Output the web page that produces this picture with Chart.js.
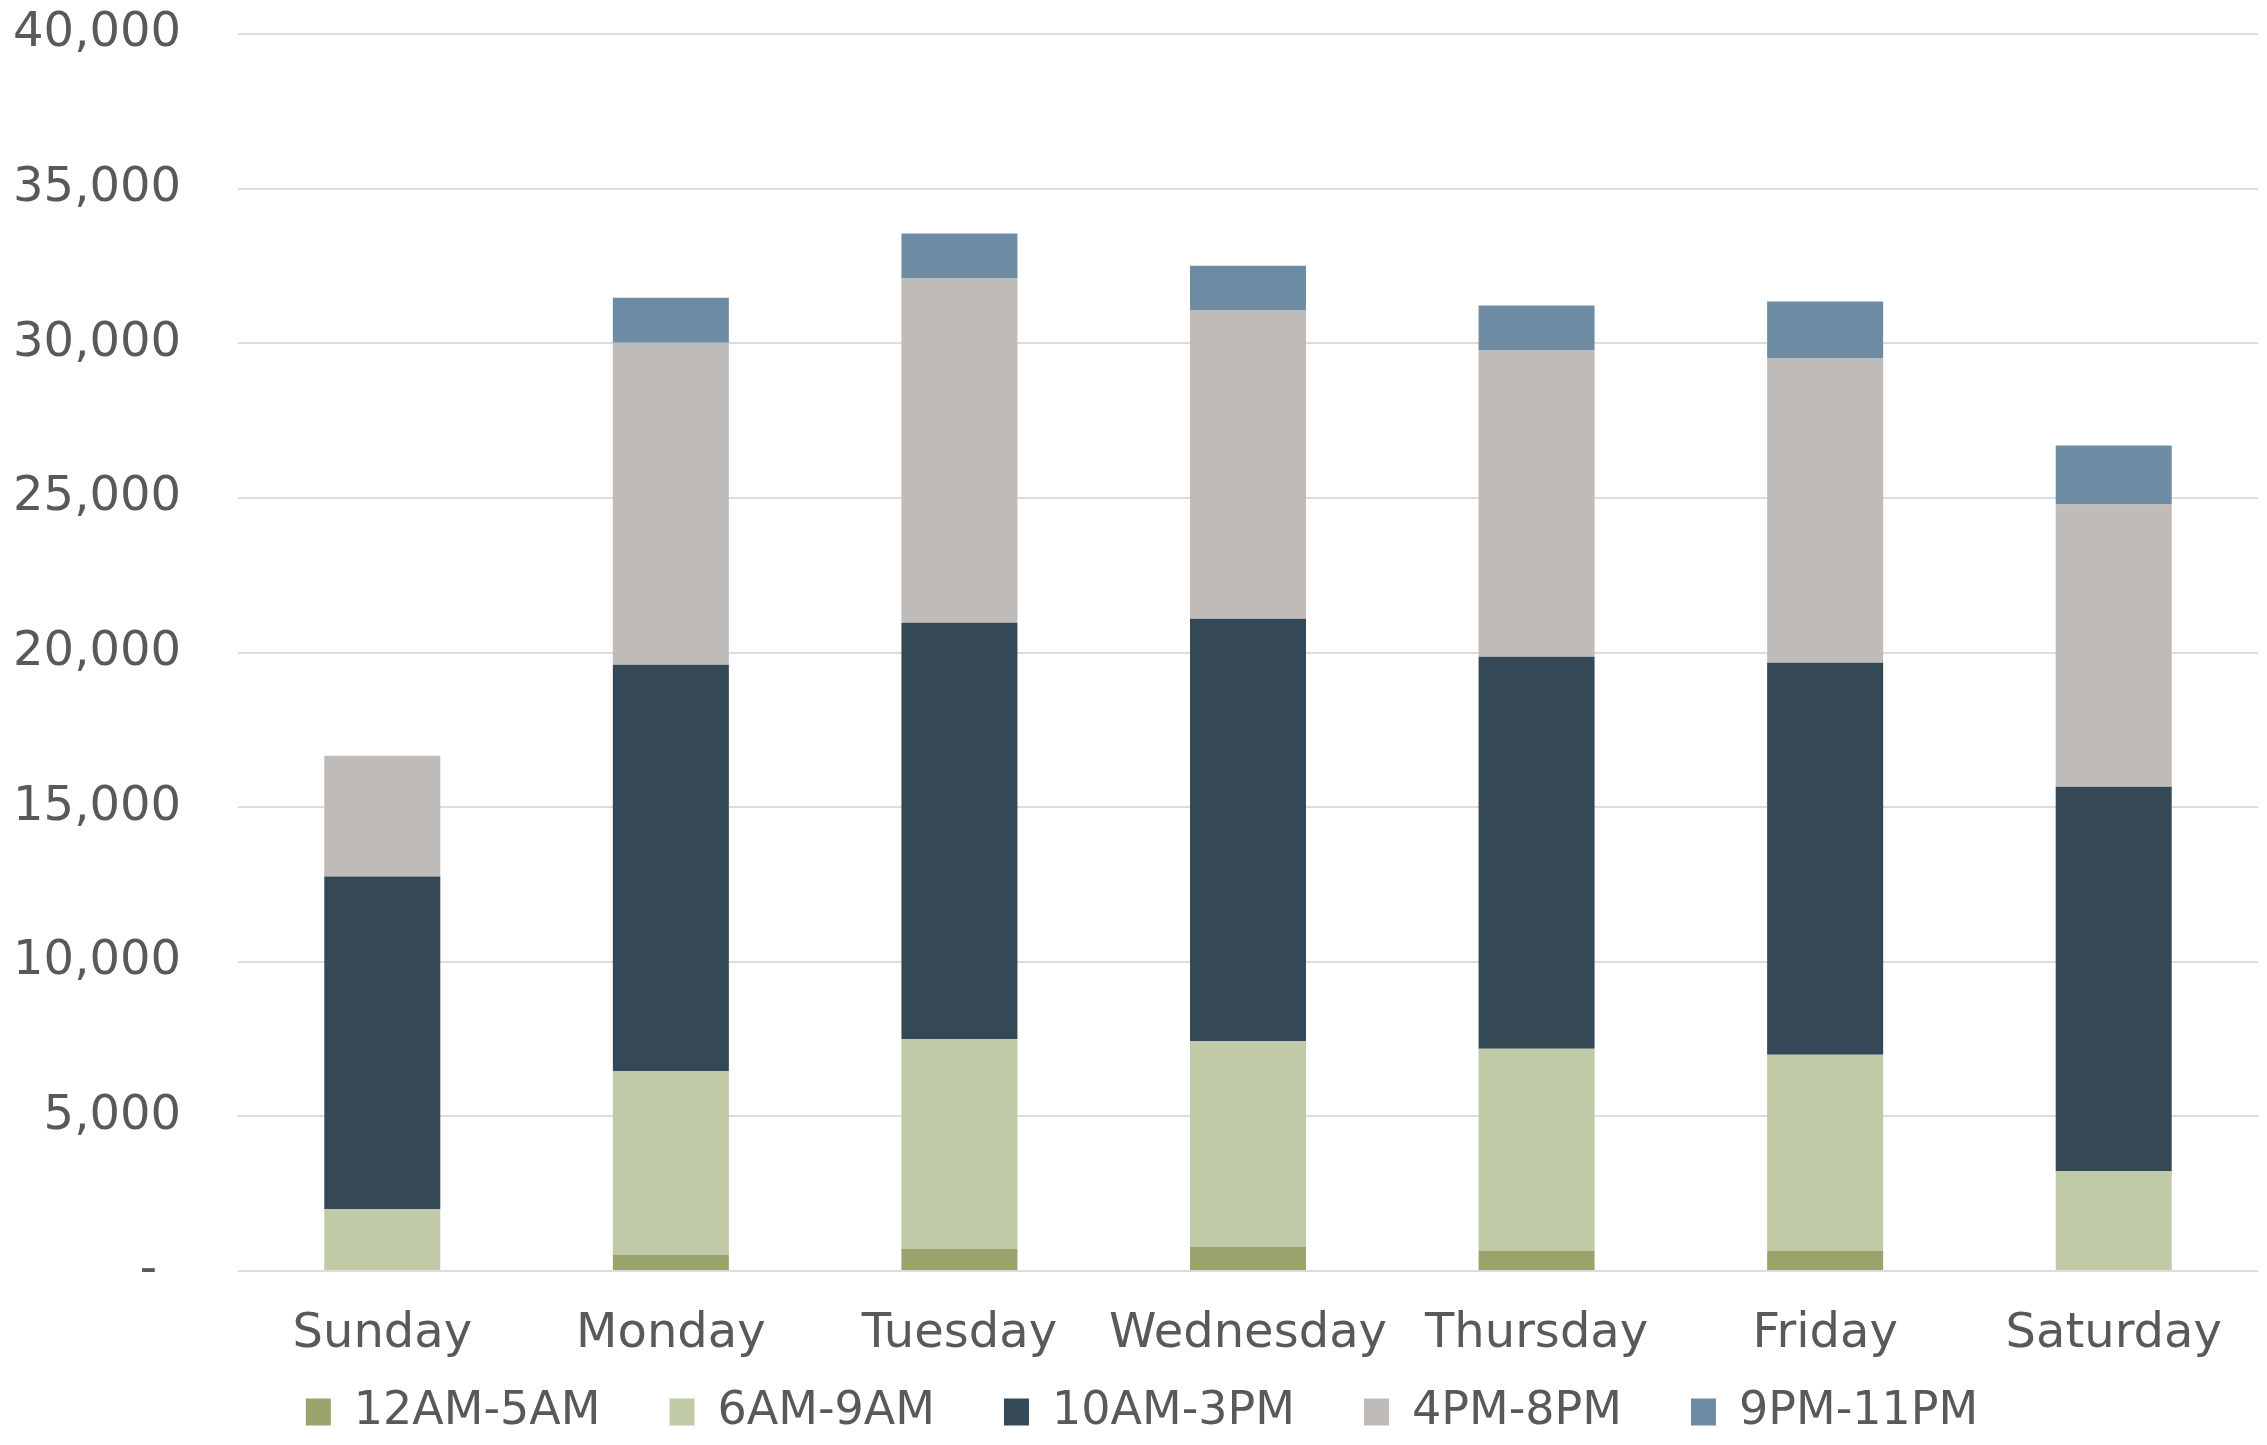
<!DOCTYPE html>
<html>
<head>
<meta charset="utf-8">
<script src="https://cdn.jsdelivr.net/npm/chart.js@4/dist/chart.umd.min.js"></script>
<style>
  html, body { margin: 0; padding: 0; background: #ffffff; }
  #wrap { width: 2267px; height: 1445px; }
</style>
</head>
<body>
<div id="wrap"><canvas id="c" width="2267" height="1445"></canvas></div>
<script>
const categories = ['Sunday', 'Monday', 'Tuesday', 'Wednesday', 'Thursday', 'Friday', 'Saturday'];
const seriesNames = ['12AM-5AM', '6AM-9AM', '10AM-3PM', '4PM-8PM', '9PM-11PM'];
const am12to5 = [0, 520, 710, 775, 650, 650, 0];
const am6to9 = [2005, 5950, 6795, 6665, 6535, 6340, 3235];
const am10to3 = [10750, 13135, 13460, 13650, 12680, 12680, 12425];
const pm4to8 = [3905, 10415, 11130, 9965, 9900, 9835, 9125];
const pm9to11 = [0, 1455, 1455, 1455, 1455, 1845, 1910];
const yTicks = [0, 5000, 10000, 15000, 20000, 25000, 30000, 35000, 40000];

const colors = ['#98A46B', '#C0CAA7', '#354856', '#BFBBB8', '#6E8BA4'];
const seriesValues = [am12to5, am6to9, am10to3, pm4to8, pm9to11];
const FONT = "'DejaVu Sans', 'Open Sans', sans-serif";

// let axis labels draw outside the (deliberately tight) axis boxes
const noLabelClip = {
  id: 'noLabelClip',
  afterUpdate(chart) {
    ['x', 'y'].forEach(id => {
      const s = chart.scales[id];
      if (s) { s._computeLabelArea = () => undefined; }
    });
  }
};

const chart = new Chart(document.getElementById('c'), {
  type: 'bar',
  data: {
    labels: categories,
    datasets: seriesNames.map((name, i) => ({
      label: name,
      data: seriesValues[i],
      backgroundColor: colors[i],
      borderWidth: 0,
      barPercentage: 0.402,
      categoryPercentage: 1.0
    }))
  },
  plugins: [noLabelClip],
  options: {
    responsive: false,
    animation: false,
    devicePixelRatio: 1,
    layout: { padding: { top: 34, right: 9, left: 26, bottom: 0 } },
    plugins: {
      tooltip: { enabled: false },
      legend: {
        position: 'bottom',
        align: 'center',
        labels: {
          boxWidth: 25,
          boxHeight: 27,
          padding: 69,
          color: '#595959',
          font: { family: FONT, size: 46 }
        }
      }
    },
    scales: {
      x: {
        stacked: true,
        grid: { display: false },
        border: { display: false },
        ticks: {
          color: '#595959',
          padding: 27,
          maxRotation: 0,
          autoSkip: false,
          font: { family: FONT, size: 48 }
        },
        afterFit: (s) => { s.height = 49; }
      },
      y: {
        stacked: true,
        min: 0,
        max: 40000,
        afterBuildTicks: (s) => { s.ticks = yTicks.map(v => ({ value: v })); },
        grid: { color: '#dcdcdc', lineWidth: 2, drawTicks: false },
        border: { display: false },
        ticks: {
          color: '#595959',
          padding: 57,
          font: { family: FONT, size: 48 },
          callback: (v) => v === 0 ? '-\u2002' : Number(v).toLocaleString('en-US')
        },
        afterFit: (s) => { s.width = 212; s.paddingTop = 20; s.paddingBottom = 20; }
      }
    }
  }
});
</script>
</body>
</html>
